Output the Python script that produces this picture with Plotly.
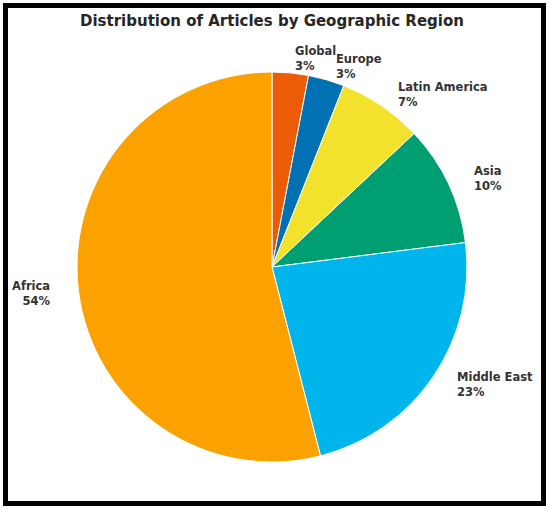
import math
import plotly.graph_objects as go

# ---- data ----
regions = ["Global", "Europe", "Latin America", "Asia", "Middle East", "Africa"]
shares = [3, 3, 7, 10, 23, 54]
colors = ["#EC5B05", "#0171B4", "#F3E22C", "#009F72", "#00B5EC", "#FCA200"]
title_text = "Distribution of Articles by Geographic Region"

# ---- layout constants (pixels) ----
W, H = 550, 510
CX, CY = 272, 267      # pie centre
R = 195                # pie radius
RX_LAB, RY_LAB = 201, 190  # label ellipse base radii
LAB_F = 1.1

fig = go.Figure()
fig.add_trace(go.Pie(
    labels=regions,
    values=shares,
    sort=False,
    direction="clockwise",
    rotation=0,
    marker=dict(colors=colors, line=dict(color="white", width=1)),
    textinfo="none",
    hoverinfo="label+percent",
    showlegend=False,
    domain=dict(x=[(CX - R) / W, (CX + R) / W],
                y=[1 - (CY + R) / H, 1 - (CY - R) / H]),
))

total = sum(shares)
cum = 0.0
annotations = []
for name, v in zip(regions, shares):
    mid = (cum + v / 2) / total * 2 * math.pi
    cum += v
    px = CX + LAB_F * RX_LAB * math.sin(mid)
    py = CY - LAB_F * RY_LAB * math.cos(mid)
    right_side = math.sin(mid) >= 0
    pct = round(v / total * 100)
    annotations.append(dict(
        x=px / W, y=1 - py / H, xref="paper", yref="paper",
        text=f"{name}<br>{pct}%",
        showarrow=False,
        xanchor="left" if right_side else "right",
        yanchor="middle",
        align="left" if right_side else "right",
        font=dict(family="DejaVu Sans", size=11.5, color="#333333", weight="bold"),
    ))

annotations.append(dict(
    x=CX / W, y=1 - 21 / H, xref="paper", yref="paper",
    text=f"<b>{title_text}</b>", showarrow=False,
    xanchor="center", yanchor="middle",
    font=dict(family="DejaVu Sans", size=15, color="#262626"),
))

fig.update_layout(
    width=W, height=H, autosize=False,
    margin=dict(l=0, r=0, t=0, b=0),
    paper_bgcolor="white", plot_bgcolor="white",
    annotations=annotations,
    shapes=[dict(type="rect", xref="paper", yref="paper",
                 x0=5.5 / W, x1=543.5 / W, y0=1 - 503.5 / H, y1=1 - 5.5 / H,
                 line=dict(color="black", width=5), fillcolor="rgba(0,0,0,0)")],
)

fig.write_html(
    "out.html",
    config={"displayModeBar": False},
    post_script="document.body.style.margin='0';document.body.style.overflow='hidden';",
)
